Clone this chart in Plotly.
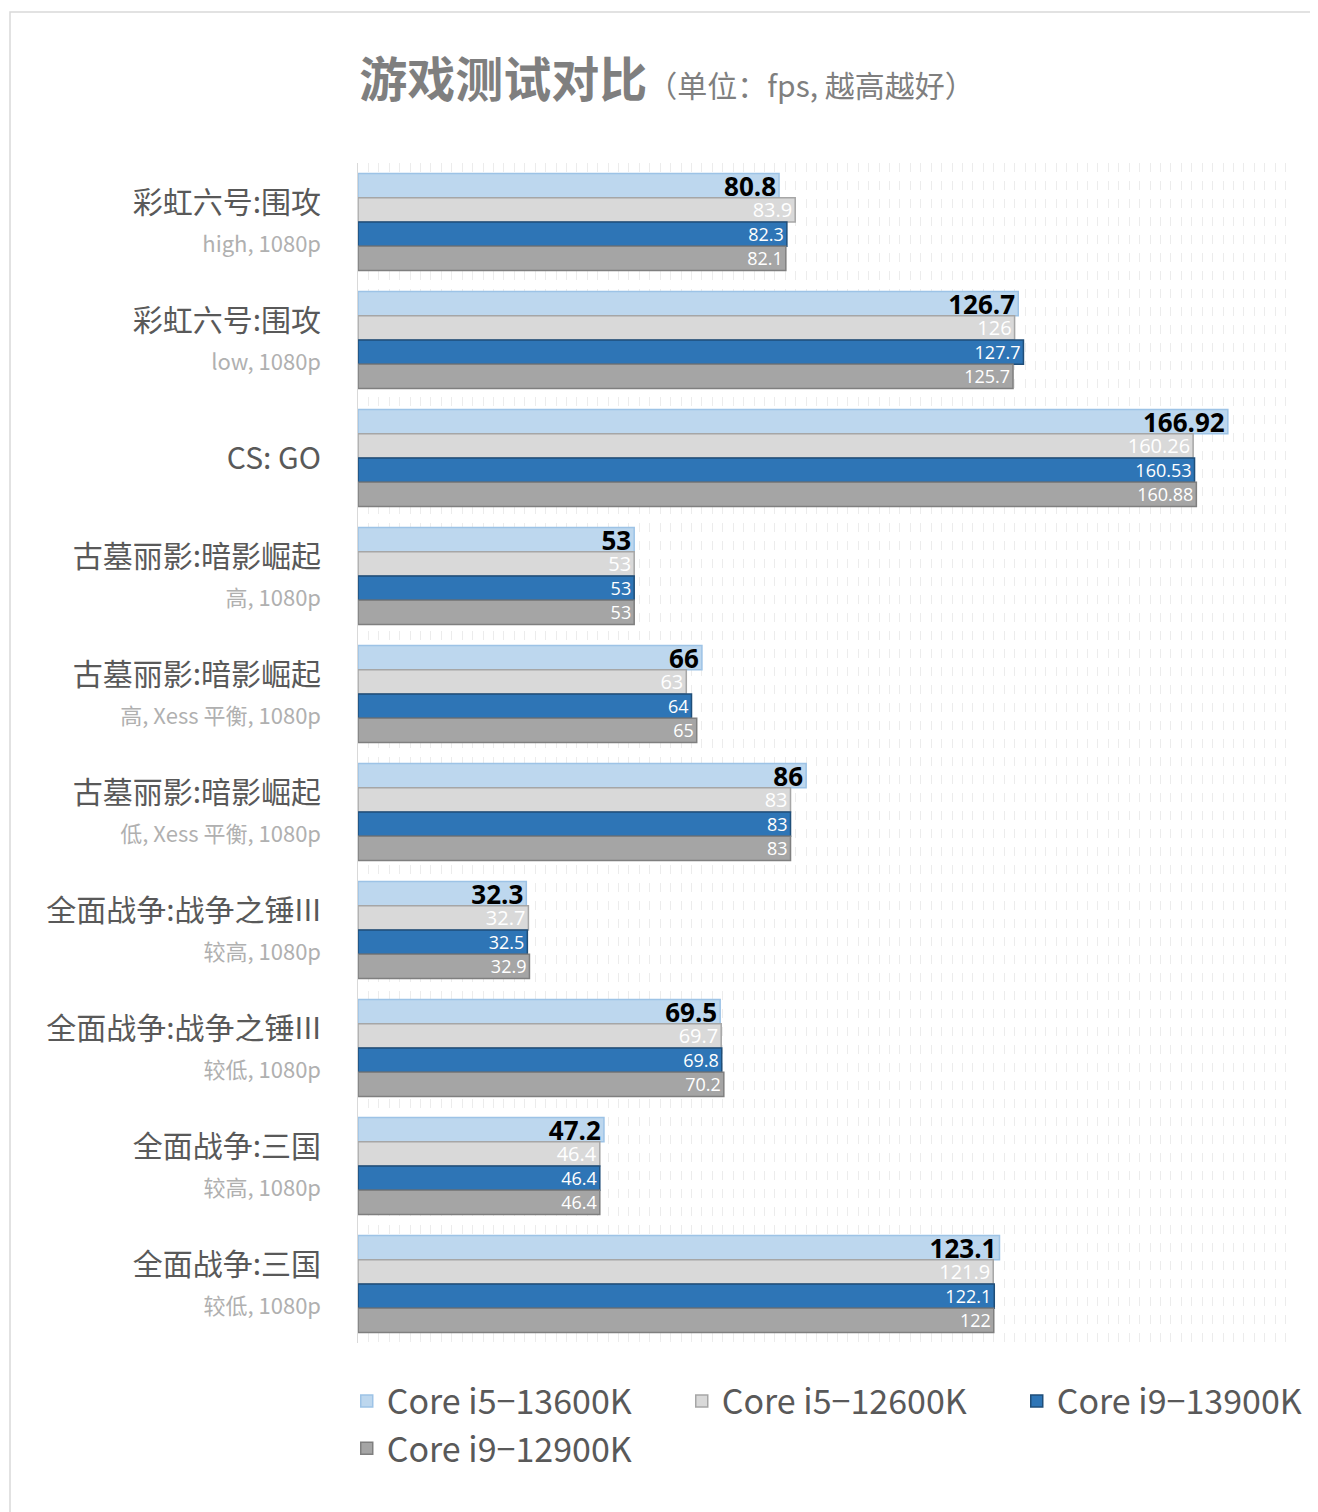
import plotly.graph_objects as go

games = ["彩虹六号:围攻", "彩虹六号:围攻", "CS: GO", "古墓丽影:暗影崛起", "古墓丽影:暗影崛起",
         "古墓丽影:暗影崛起", "全面战争:战争之锤III", "全面战争:战争之锤III", "全面战争:三国", "全面战争:三国"]
settings = ["high, 1080p", "low, 1080p", "", "高, 1080p", "高, Xess 平衡, 1080p",
            "低, Xess 平衡, 1080p", "较高, 1080p", "较低, 1080p", "较高, 1080p", "较低, 1080p"]
cpus = ["Core i5−13600K", "Core i5−12600K", "Core i9−13900K", "Core i9−12900K"]
i5_13600k = [80.8, 126.7, 166.92, 53, 66, 86, 32.3, 69.5, 47.2, 123.1]
i5_12600k = [83.9, 126, 160.26, 53, 63, 83, 32.7, 69.7, 46.4, 121.9]
i9_13900k = [82.3, 127.7, 160.53, 53, 64, 83, 32.5, 69.8, 46.4, 122.1]
i9_12900k = [82.1, 125.7, 160.88, 53, 65, 83, 32.9, 70.2, 46.4, 122]

series = [i5_13600k, i5_12600k, i9_13900k, i9_12900k]
fills = ["#bdd7ee", "#d9d9d9", "#2e75b6", "#a5a5a5"]
lines = ["#9dc3e6", "#a6a6a6", "#1f4e79", "#7f7f7f"]
txt_fonts = [dict(size=26, color="black", family="Open Sans"),
             dict(size=20, color="white", family="Open Sans"),
             dict(size=18, color="white", family="Open Sans"),
             dict(size=18, color="white", family="Open Sans")]

ids = list(range(len(games)))
ticktext = []
for g, s in zip(games, settings):
    t = g
    if s:
        t += "<br><span style='font-size:22px;color:#b0b0b0'>" + s + "</span>"
    ticktext.append(t)

fig = go.Figure()
for name, vals, fc, lc, tf in zip(cpus, series, fills, lines, txt_fonts):
    labels = [("<b>%s</b>" % v) if tf["color"] == "black" else str(v) for v in vals]
    fig.add_trace(go.Bar(
        y=ids, x=vals, name=name, orientation="h",
        marker=dict(color=fc, line=dict(color=lc, width=1.5)),
        text=labels, textposition="inside", insidetextanchor="end", textangle=0,
        textfont=tf, constraintext="none", cliponaxis=False,
    ))

fig.update_layout(
    width=1318, height=1512,
    paper_bgcolor="white", plot_bgcolor="white",
    font=dict(family="Noto Sans CJK SC", color="#595959"),
    barmode="group", bargap=0.18, bargroupgap=0,
    margin=dict(l=350, r=30, t=155, b=177, autoexpand=False),
    title=dict(
        text="<b>游戏测试对比</b><span style='font-size:30px'>（单位：fps, 越高越好）</span>",
        x=0.5, xref="container", xanchor="center", y=0.952, yanchor="middle",
        font=dict(size=48, color="#7f7f7f", family="Noto Sans CJK SC")),
    legend=dict(orientation="h", x=-0.012, xanchor="left", y=-0.025, yanchor="top",
                font=dict(size=34, color="#595959", family="Noto Sans CJK SC"),
                traceorder="normal", entrywidth=290, itemwidth=30),
    xaxis=dict(range=[0, 180], dtick=2, showticklabels=False, showgrid=True,
               gridcolor="#ececec", griddash="dash", zeroline=False,
               showline=False, automargin=False),
    yaxis=dict(tickvals=ids, ticktext=ticktext, autorange="reversed", automargin=False,
               tickfont=dict(size=30, color="#595959"), ticks="",
               showline=True, linecolor="#d9d9d9", linewidth=1, ticklabelstandoff=30),
    shapes=[dict(type="rect", xref="paper", yref="paper",
                 x0=-348/938, x1=1 + 26/938, y0=-173/1180, y1=1 + 151/1180,
                 line=dict(color="#d9d9d9", width=1.5))],
)

fig.write_html("out.html")
